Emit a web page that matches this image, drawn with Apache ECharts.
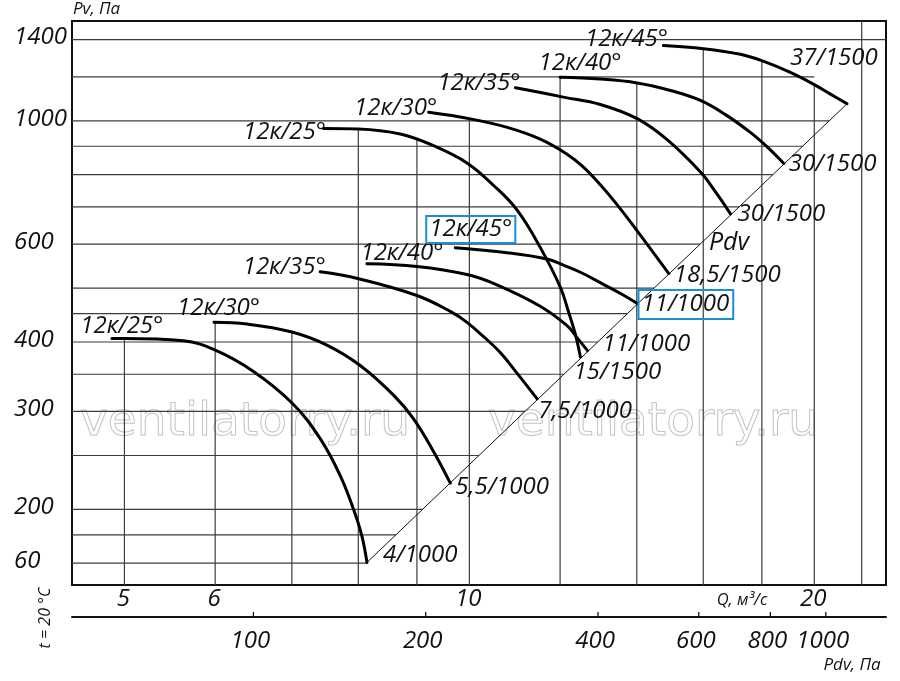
<!DOCTYPE html>
<html><head><meta charset="utf-8">
<script src="https://cdn.jsdelivr.net/npm/echarts@6/dist/echarts.min.js"></script>
<style>html,body{margin:0;padding:0;background:#fff}#c{width:900px;height:681px}</style>
</head><body><div id="c"></div>
<script>
// ---------------- data ----------------
// Fan curves: Q (m3/s) and Pv (Pa)
const q_L25 = [4.875, 4.99, 5.629, 5.995, 6.480, 7.009, 7.410, 7.714, 7.923, 8.058, 8.140];
const pv_L25 = [406, 406, 402, 387, 354, 310, 268, 230, 200, 179, 160.5];
const q_L30 = [5.987, 6.395, 7.000, 7.510, 8.030, 8.587, 8.939, 9.307, 9.624];
const pv_L30 = [434, 431, 417, 395, 363, 321, 291, 254, 223];
const q_L35 = [7.410, 8.003, 9.000, 9.624, 9.952, 10.29, 10.64, 11.00, 11.46];
const pv_L35 = [535, 520, 485, 454, 434, 409, 383, 352, 316];
const q_L40 = [8.140, 9.000, 9.952, 10.57, 11.53, 12.17, 12.42, 12.68];
const pv_L40 = [553, 547, 529, 507, 464, 428, 407, 386];
const q_L45 = [9.721, 10.79, 11.69, 12.08, 12.50, 13.09, 13.55, 14.02];
const pv_L45 = [591, 579, 564, 550, 534, 508, 489, 469];
const q_U25 = [7.459, 8.003, 8.703, 9.307, 9.952, 10.50, 11.00, 11.53, 12.01, 12.21, 12.37, 12.50];
const pv_U25 = [969, 967, 947, 902, 840, 765, 692, 592, 501, 452, 414, 376];
const q_U30 = [9.214, 10.02, 10.79, 11.53, 12.17, 12.57, 13.01, 13.46, 14.01, 14.93];
const pv_U30 = [1036, 1008, 973, 927, 871, 826, 767, 706, 634, 531];
const q_U35 = [10.97, 11.30, 12.08, 13.01, 14.01, 14.88, 15.91, 16.40, 16.90];
const pv_U35 = [1147, 1134, 1103, 1070, 1009, 925, 809, 745, 680];
const q_U40 = [12.0, 13.01, 14.01, 14.98, 15.91, 16.73, 17.60, 18.24, 18.81];
const pv_U40 = [1198, 1189, 1170, 1134, 1088, 1026, 952, 893, 838];
const q_U45 = [14.77, 16.01, 17.24, 18.07, 19.06, 19.98, 20.66, 21.36];
const pv_U45 = [1366, 1348, 1317, 1279, 1222, 1163, 1117, 1073];

const curveNames = ['12к/25°', '12к/30°', '12к/35°', '12к/40°', '12к/45°',
                    '12к/25°', '12к/30°', '12к/35°', '12к/40°', '12к/45°'];
const motorNames = ['4/1000', '5,5/1000', '7,5/1000', '11/1000', '11/1000',
                    '15/1500', '18,5/1500', '30/1500', '30/1500', '37/1500'];
const curveQ = [q_L25, q_L30, q_L35, q_L40, q_L45, q_U25, q_U30, q_U35, q_U40, q_U45];
const curvePv = [pv_L25, pv_L30, pv_L35, pv_L40, pv_L45, pv_U25, pv_U30, pv_U35, pv_U40, pv_U45];

// Dynamic pressure line (ends of the working area)
const diagQ = [8.140, 21.36];
const diagPv = [160.5, 1073];

// Grid values
const hGrid = [1400, 1200, 1000, 900, 800, 700, 600, 500, 450, 400, 350, 300, 250, 200, 180, 160];
const vGrid = [5, 6, 7, 8, 9, 10, 12, 14, 16, 18, 20, 22];

// Tick labels
const yTickValues = [1400, 1000, 600, 400, 300, 200, 160];
const yTickLabels = ['1400', '1000', '600', '400', '300', '200', '60'];
const xTickValues = [5, 6, 10, 20];
const xTickLabels = ['5', '6', '10', '20'];
const pdvTickValues = [100, 200, 400, 600, 800, 1000];
const pdvTickLabels = ['100', '200', '400', '600', '800', '1000'];

// Axis ranges
const Q_MIN = 4.5, Q_MAX = 23.1;
const PV_MIN = 146.2, PV_MAX = 1512;
const PDV_MIN = 48.2, PDV_MAX = 1274;

// ---------------- layout / style config ----------------
const FONT = 'Open Sans';
const BLUE = '#1a8ed8';
const NUM_SIZE = 24;
const PDV_OFFSET = 32;
// horizontal grid lines that do not stop at the Pdv line
const hGridEndOverride = {1400: Q_MAX, 1200: 20};
// label offsets (px) from curve start (label centre) and curve end (label left edge / middle)
const startLabelOffset = [[10,-12.7],[4.5,-14],[-36,-4.5],[35,-11],[15.5,-18.2],[-39,3.3],[-33,-4],[-36.5,-5],[20,-14],[-37,-6]];
const endLabelOffset = [[16,-7.5],[5,4],[1,12.5],[15,-6],[1,1],[-7,15],[5,1.3],[7,0],[5,0.5],[-57,-46]];
const boxedStart = [4];
const boxedEnd = [4];

// ---------------- helpers ----------------
function interpLog(qs, ps, q) {
  const n = qs.length;
  if (q < qs[0] - 1e-9 || q > qs[n - 1] + 1e-9) return null;
  for (let i = 0; i < n - 1; i++) {
    if (q >= qs[i] - 1e-9 && q <= qs[i + 1] + 1e-9) {
      const t = (Math.log(q) - Math.log(qs[i])) / (Math.log(qs[i + 1]) - Math.log(qs[i]));
      return Math.exp(Math.log(ps[i]) + t * (Math.log(ps[i + 1]) - Math.log(ps[i])));
    }
  }
  return ps[n - 1];
}
function diagQAt(pv) {
  const t = (Math.log(pv) - Math.log(diagPv[0])) / (Math.log(diagPv[1]) - Math.log(diagPv[0]));
  return Math.exp(Math.log(diagQ[0]) + t * (Math.log(diagQ[1]) - Math.log(diagQ[0])));
}
function envelope(q) {
  let best = null;
  for (let i = 0; i < curveQ.length; i++) {
    const v = interpLog(curveQ[i], curvePv[i], q);
    if (v !== null && (best === null || v > best)) best = v;
  }
  return best === null ? PV_MAX : best;
}
function textStyle(text, size, align, vAlign, extra) {
  return Object.assign({
    text: text, fill: '#111', fontFamily: FONT, fontStyle: 'italic',
    fontSize: size, align: align || 'center', verticalAlign: vAlign || 'middle'
  }, extra || {});
}

// ---------------- series ----------------
const series = [];

series.push({
  type: 'custom', name: 'hgrid', z: 1, silent: true, clip: false,
  data: hGrid.map(v => [Q_MIN, v]),
  renderItem: function (params, api) {
    const v = hGrid[params.dataIndex];
    const endQ = (v in hGridEndOverride) ? hGridEndOverride[v] : Math.min(diagQAt(v), Q_MAX);
    const p0 = api.coord([Q_MIN, v]);
    const p1 = api.coord([endQ, v]);
    return {type: 'line', shape: {x1: p0[0], y1: p0[1], x2: p1[0], y2: p1[1]},
            style: {stroke: '#3c3c3c', lineWidth: 1.2}};
  }
});
series.push({
  type: 'custom', name: 'vgrid', z: 1, silent: true, clip: false,
  data: vGrid.map(q => [q, PV_MIN]),
  renderItem: function (params, api) {
    const q = vGrid[params.dataIndex];
    const p0 = api.coord([q, PV_MIN]);
    const p1 = api.coord([q, envelope(q)]);
    return {type: 'line', shape: {x1: p0[0], y1: p0[1], x2: p1[0], y2: p1[1]},
            style: {stroke: '#3c3c3c', lineWidth: 1.2}};
  }
});
series.push({
  type: 'line', name: 'Pdv', z: 2, silent: true, symbol: 'none',
  data: diagQ.map((q, i) => [q, diagPv[i]]),
  lineStyle: {color: '#111', width: 1}
});
for (let i = 0; i < curveQ.length; i++) {
  series.push({
    type: 'line', name: curveNames[i] + ' ' + motorNames[i], z: 3, silent: true,
    symbol: 'none', smooth: 0.4,
    data: curveQ[i].map((q, k) => [q, curvePv[i][k]]),
    lineStyle: {color: '#000', width: 3, cap: 'round'}
  });
}
// curve labels
const annAnchors = [], annText = [], annOff = [], annKind = [], annBoxed = [];
for (let i = 0; i < curveQ.length; i++) {
  annAnchors.push([curveQ[i][0], curvePv[i][0]]);
  annText.push(curveNames[i]); annOff.push(startLabelOffset[i]); annKind.push('start');
  annBoxed.push(boxedStart.indexOf(i) >= 0);
  const n = curveQ[i].length - 1;
  annAnchors.push([curveQ[i][n], curvePv[i][n]]);
  annText.push(motorNames[i]); annOff.push(endLabelOffset[i]); annKind.push('end');
  annBoxed.push(boxedEnd.indexOf(i) >= 0);
}
series.push({
  type: 'custom', name: 'labels', z: 5, silent: true, clip: false,
  data: annAnchors,
  renderItem: function (params, api) {
    const i = params.dataIndex;
    const p = api.coord([api.value(0), api.value(1)]);
    const off = annOff[i];
    const boxed = annBoxed[i];
    const extra = boxed ? {borderColor: BLUE, borderWidth: 2, padding: annKind[i] === 'start' ? [2, 3, 1, 3] : [3, 4, 2, 3]} : {};
    return {type: 'text', x: p[0] + off[0], y: p[1] + off[1],
            style: textStyle(annText[i], NUM_SIZE, annKind[i] === 'start' ? 'center' : 'left', 'middle', extra)};
  }
});
// Q tick labels
series.push({
  type: 'custom', name: 'qTicks', z: 5, silent: true, clip: false,
  data: xTickValues.map(v => [v, PV_MIN]),
  renderItem: function (params, api) {
    const p = api.coord([api.value(0), api.value(1)]);
    return {type: 'text', x: p[0] - 1, y: p[1] + 14,
            style: textStyle(xTickLabels[params.dataIndex], NUM_SIZE)};
  }
});
// Pv tick labels
series.push({
  type: 'custom', name: 'pvTicks', z: 5, silent: true, clip: false,
  data: yTickValues.map(v => [Q_MIN, v]),
  renderItem: function (params, api) {
    const p = api.coord([api.value(0), api.value(1)]);
    return {type: 'text', x: p[0] - 58, y: p[1] - 2,
            style: textStyle(yTickLabels[params.dataIndex], NUM_SIZE, 'left')};
  }
});
// Pdv axis ticks and labels
series.push({
  type: 'custom', name: 'pdvTicks', z: 5, silent: true, clip: false,
  xAxisIndex: 1, yAxisIndex: 0,
  data: pdvTickValues.map(v => [v, PV_MIN]),
  renderItem: function (params, api) {
    const p = api.coord([api.value(0), api.value(1)]);
    const yl = p[1] + PDV_OFFSET;
    return {type: 'group', children: [
      {type: 'line', shape: {x1: p[0], y1: yl - 5, x2: p[0], y2: yl}, style: {stroke: '#111', lineWidth: 1.3}},
      {type: 'text', x: p[0] - 3, y: yl + 24, style: textStyle(pdvTickLabels[params.dataIndex], NUM_SIZE)}
    ]};
  }
});

const option = {
  animation: false,
  backgroundColor: '#fff',
  grid: {left: 72, top: 21, right: 14, bottom: 96, show: true, borderColor: '#111', borderWidth: 2, backgroundColor: 'transparent'},
  xAxis: [
    {type: 'log', logBase: 10, min: Q_MIN, max: Q_MAX, position: 'bottom',
     axisLine: {show: false}, axisTick: {show: false}, axisLabel: {show: false}, splitLine: {show: false}},
    {type: 'log', logBase: 10, min: PDV_MIN, max: PDV_MAX, position: 'bottom', offset: PDV_OFFSET,
     axisLine: {show: true, lineStyle: {color: '#111', width: 2}}, axisTick: {show: false},
     axisLabel: {show: false}, splitLine: {show: false}}
  ],
  yAxis: [
    {type: 'log', logBase: 10, min: PV_MIN, max: PV_MAX,
     axisLine: {show: false}, axisTick: {show: false}, axisLabel: {show: false}, splitLine: {show: false}}
  ],
  graphic: [
    {type: 'text', x: 80, y: 423, z: 0, silent: true,
     style: {text: 'ventilatorry.ru', fill: 'none', stroke: '#c4c4c4', lineWidth: 1, fontFamily: 'DejaVu Sans', fontSize: 47, align: 'left', verticalAlign: 'middle'}},
    {type: 'text', x: 488, y: 423, z: 0, silent: true,
     style: {text: 'ventilatorry.ru', fill: 'none', stroke: '#c4c4c4', lineWidth: 1, fontFamily: 'DejaVu Sans', fontSize: 47, align: 'left', verticalAlign: 'middle'}},
    {type: 'text', x: 73, y: 9, z: 10, style: textStyle('Pv, Па', 17, 'left')},
    {type: 'text', x: 742, y: 600, z: 10, style: textStyle('Q, м³/с', 16.5)},
    {type: 'text', x: 852, y: 665, z: 10, style: textStyle('Pdv, Па', 17)},
    {type: 'text', x: 729, y: 243, z: 10, style: textStyle('Pdv', 25)},
    {type: 'text', x: 45, y: 618, z: 10, rotation: Math.PI / 2, style: textStyle('t = 20 °C', 16)}
  ],
  series: series
};
const chart = echarts.init(document.getElementById('c'));
chart.setOption(option);
</script>
</body></html>
